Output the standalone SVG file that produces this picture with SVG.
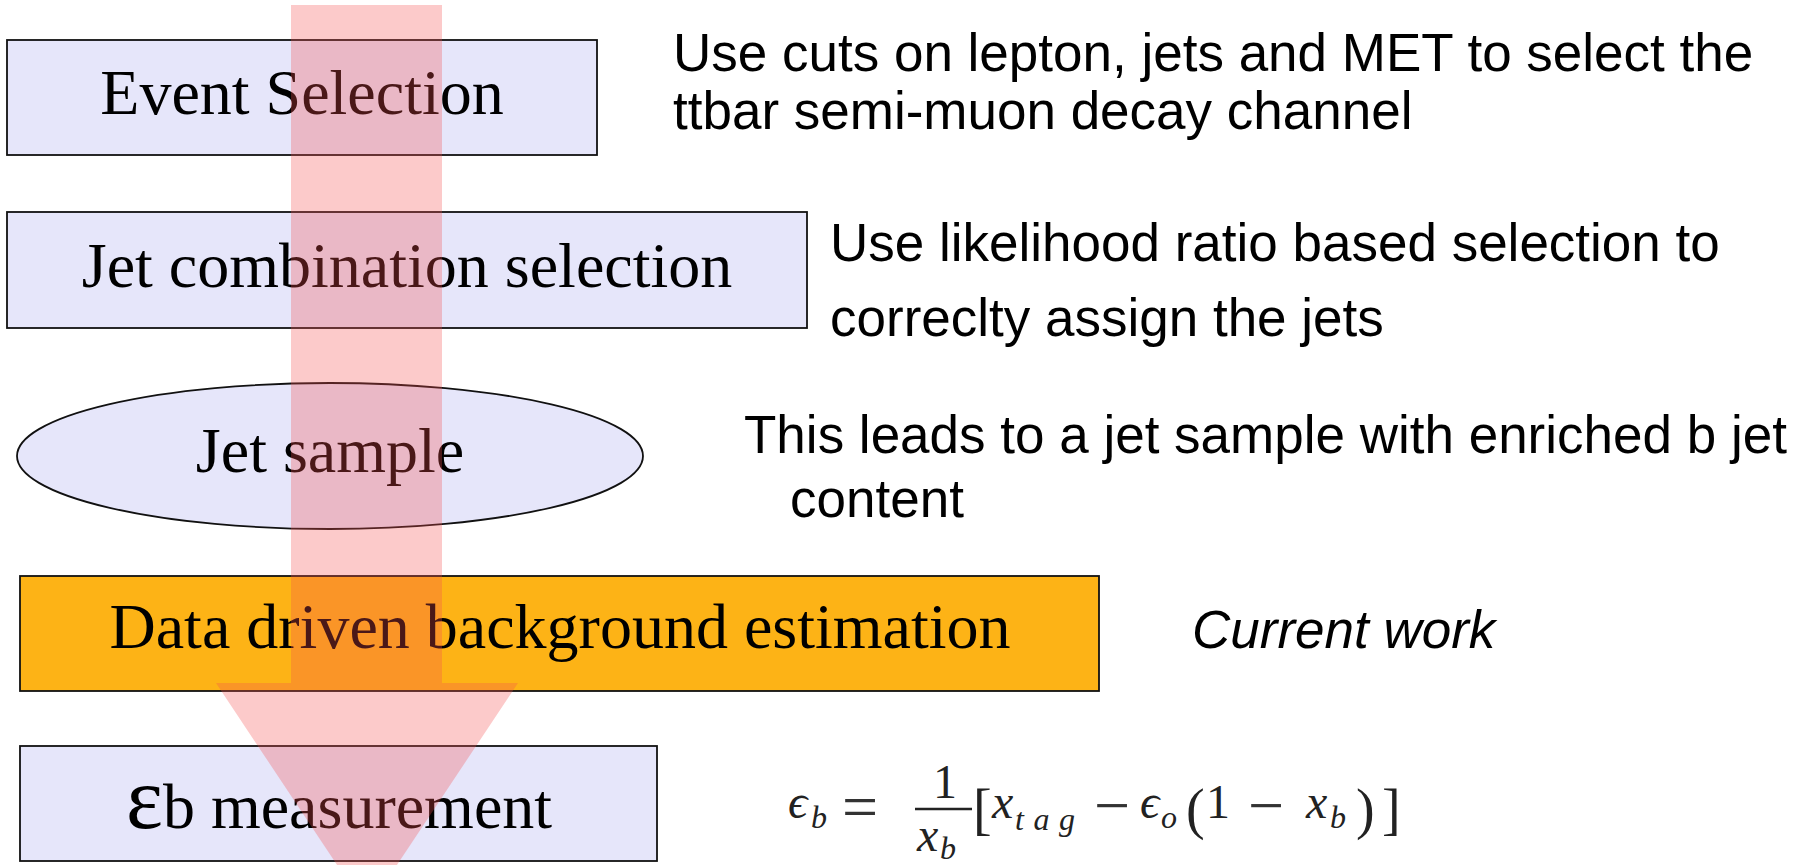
<svg xmlns="http://www.w3.org/2000/svg" width="1810" height="865" viewBox="0 0 1810 865">
<style>
.box{fill:#E6E6FA;stroke:#111;stroke-width:1.8}
.orange{fill:#FDB316;stroke:#111;stroke-width:1.8}
.lbl{font-family:"Liberation Serif","Times New Roman",serif;font-size:64px;fill:#000;text-anchor:middle}
.note{font-family:"Liberation Sans",Arial,sans-serif;font-size:53px;fill:#000}
.it{font-style:italic}
.m{font-family:"Liberation Serif","DejaVu Serif",serif;fill:#222;font-size:48px}
.op{font-family:"Liberation Serif","DejaVu Serif",serif;fill:#333;font-size:64px}
.mi{font-family:"Liberation Serif","DejaVu Serif",serif;fill:#222;font-size:48px;font-style:italic}
.ms{font-family:"Liberation Serif","DejaVu Serif",serif;fill:#222;font-size:32px;font-style:italic}
.md{font-family:"Liberation Serif","DejaVu Serif",serif;fill:#222;font-size:56px}
.arrow{fill:rgb(245,78,78);fill-opacity:0.3}
</style>
<rect width="1810" height="865" fill="#fff"/>
<g id="event-selection">
<rect class="box" x="7" y="40" width="590" height="115"/>
<text class="lbl" x="302" y="114">Event Selection</text>
</g>
<g id="jet-combination-selection">
<rect class="box" x="7" y="212" width="800" height="116"/>
<text class="lbl" x="407" y="287">Jet combination selection</text>
</g>
<g id="jet-sample">
<ellipse class="box" cx="330" cy="456" rx="313" ry="73"/>
<text class="lbl" x="330" y="472">Jet sample</text>
</g>
<g id="background-estimation">
<rect class="orange" x="20" y="576" width="1079" height="115"/>
<text class="lbl" x="560" y="648">Data driven background estimation</text>
</g>
<g id="eb-measurement">
<rect class="box" x="20" y="746" width="637" height="115"/>
<text class="lbl" x="339" y="828"><tspan font-size="88">ε</tspan>b measurement</text>
</g>
<g id="connectors">
<polygon class="arrow" points="291,5 442,5 442,683 518,683 367,910 216,683 291,683"/>
</g>
<g id="note-event">
<text class="note" x="673" y="71">Use cuts on lepton, jets and MET to select the</text>
<text class="note" x="673" y="129">ttbar semi-muon decay channel</text>
</g>
<g id="note-jet-combination">
<text class="note" x="830" y="261">Use likelihood ratio based selection to</text>
<text class="note" x="830" y="336">correclty assign the jets</text>
</g>
<g id="note-jet-sample">
<text class="note" x="744" y="453">This leads to a jet sample with enriched b jet</text>
<text class="note" x="790" y="517">content</text>
</g>
<g id="note-background">
<text class="note it" x="1192" y="648" font-size="52">Current work</text>
</g>
<g id="formula">
<text class="mi" x="788" y="818">ϵ</text>
<text class="ms" x="811" y="828">b</text>
<text class="op" x="842" y="828">=</text>
<line x1="915" y1="809" x2="972" y2="809" stroke="#222" stroke-width="2.5"/>
<text class="m" x="933" y="798" font-size="44">1</text>
<text class="mi" x="917" y="851">x</text>
<text class="ms" x="940" y="859">b</text>
<text class="md" x="973" y="828">[</text>
<text class="mi" x="992" y="818">x</text>
<text class="ms" x="1015" y="830" textLength="60" lengthAdjust="spacing">tag</text>
<text class="op" x="1094" y="827">−</text>
<text class="mi" x="1140" y="818">ϵ</text>
<text class="ms" x="1161" y="828">o</text>
<text class="md" x="1186" y="828">(</text>
<text class="m" x="1206" y="818">1</text>
<text class="op" x="1248" y="827">−</text>
<text class="mi" x="1306" y="818">x</text>
<text class="ms" x="1330" y="828">b</text>
<text class="md" x="1356" y="828">)</text>
<text class="md" x="1382" y="828">]</text>
</g>
</svg>
